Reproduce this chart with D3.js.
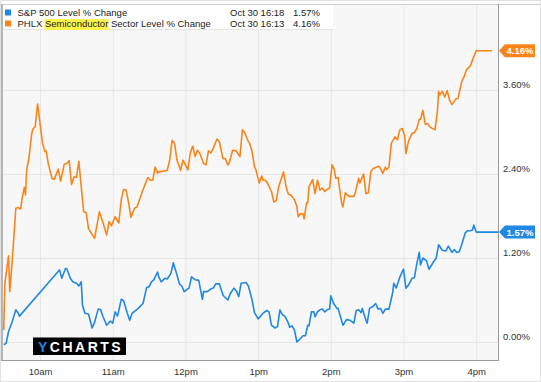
<!DOCTYPE html>
<html>
<head>
<meta charset="utf-8">
<script src="https://cdn.jsdelivr.net/npm/d3@7"></script>
<style>
  body { margin: 0; background: #fff; }
  svg { display: block; font-family: 'Liberation Sans', Arial, sans-serif; }
  .grid line { stroke: #e6e6e6; stroke-width: 1; }
  .grid path { display: none; }
  .axislabel path, .axislabel line { display: none; }
  .axislabel text { fill: #333; font-size: 9.5px; }
</style>
</head>
<body>
<div id="chart"></div>
<script>
// intraday % change, Oct 30
var spTimes = ['9:30','9:32','9:34','9:37','9:40','9:42','9:43','10:16','10:18','10:21','10:22','10:25','10:27','10:30','10:32','10:34','10:35','10:37','10:40','10:43','10:45','10:48','10:50','10:52','10:55','10:58','11:00','11:02','11:04','11:07','11:09','11:12','11:14','11:16','11:21','11:25','11:28','11:30','11:32','11:34','11:37','11:38','11:40','11:43','11:45','11:48','11:50','11:53','11:55','11:57','11:59','12:02','12:03','12:05','12:08','12:11','12:14','12:15','12:18','12:21','12:23','12:25','12:28','12:31','12:32','12:35','12:37','12:40','12:42','12:44','12:46','12:50','12:52','12:55','12:57','13:00','13:02','13:04','13:07','13:09','13:11','13:14','13:16','13:18','13:20','13:22','13:25','13:26','13:28','13:30','13:32','13:35','13:37','13:39','13:41','13:42','13:44','13:46','13:47','13:49','13:51','13:53','13:55','13:57','13:59','14:00','14:02','14:05','14:06','14:08','14:10','14:13','14:16','14:19','14:21','14:23','14:25','14:26','14:29','14:30','14:32','14:35','14:37','14:39','14:41','14:43','14:45','14:48','14:51','14:52','14:54','14:57','15:00','15:02','15:04','15:07','15:09','15:11','15:13','15:14','15:16','15:19','15:21','15:25','15:27','15:29','15:32','15:35','15:37','15:40','15:42','15:44','15:46','15:48','15:51','15:53','15:55','15:57','15:58','16:00','16:18'];
var spValues = [-0.04,-0.02,0.15,0.29,0.46,0.41,0.37,1.03,0.91,1.05,1.05,0.91,0.86,0.84,0.80,0.86,0.53,0.41,0.40,0.20,0.28,0.47,0.46,0.36,0.24,0.30,0.27,0.43,0.37,0.61,0.59,0.41,0.31,0.41,0.48,0.55,0.78,0.79,0.86,0.89,1.00,0.93,0.86,0.91,0.90,0.98,1.13,0.96,0.83,0.80,0.72,0.76,0.77,0.93,0.89,0.88,0.61,0.72,0.72,0.76,0.77,0.83,0.83,0.67,0.65,0.60,0.69,0.77,0.73,0.65,0.84,0.85,0.80,0.60,0.42,0.33,0.37,0.41,0.45,0.43,0.24,0.20,0.22,0.46,0.39,0.37,0.27,0.21,0.23,0.17,0.00,0.05,0.09,0.09,0.24,0.23,0.43,0.43,0.36,0.43,0.46,0.47,0.43,0.46,0.47,0.66,0.56,0.48,0.48,0.36,0.24,0.32,0.31,0.27,0.45,0.46,0.42,0.48,0.31,0.27,0.48,0.51,0.55,0.47,0.48,0.41,0.47,0.47,0.70,0.84,0.77,0.93,1.04,0.77,0.81,0.91,0.92,1.12,1.28,1.10,1.20,1.16,1.04,1.15,1.20,1.39,1.31,1.30,1.37,1.28,1.32,1.28,1.29,1.39,1.56,1.59,1.59,1.60,1.67,1.57,1.57];

var soxTimes = ['9:30','9:31','9:34','9:35','9:37','9:40','9:42','9:44','9:45','9:47','9:48','9:49','9:51','9:53','9:54','9:56','9:58','10:00','10:02','10:04','10:05','10:07','10:10','10:12','10:15','10:17','10:20','10:22','10:24','10:26','10:28','10:30','10:32','10:36','10:38','10:40','10:45','10:49','10:52','10:55','10:57','10:59','11:02','11:05','11:07','11:09','11:11','11:13','11:15','11:18','11:20','11:23','11:26','11:29','11:31','11:33','11:35','11:37','11:38','11:45','11:47','11:49','11:51','11:53','11:56','11:58','12:00','12:02','12:04','12:06','12:08','12:10','12:12','12:15','12:17','12:19','12:21','12:23','12:26','12:28','12:31','12:33','12:35','12:36','12:39','12:42','12:43','12:45','12:47','12:49','12:52','12:53','12:55','12:57','12:58','13:01','13:03','13:04','13:06','13:08','13:11','13:13','13:15','13:17','13:21','13:23','13:25','13:27','13:30','13:32','13:33','13:35','13:37','13:38','13:40','13:41','13:42','13:45','13:47','13:49','13:51','13:53','13:55','13:57','13:59','14:01','14:03','14:04','14:06','14:08','14:09','14:10','14:12','14:15','14:19','14:20','14:23','14:24','14:27','14:29','14:31','14:33','14:35','14:38','14:40','14:43','14:45','14:46','14:48','14:50','14:53','14:55','14:57','14:59','15:01','15:02','15:04','15:07','15:09','15:11','15:13','15:14','15:16','15:18','15:20','15:22','15:26','15:28','15:29','15:30','15:32','15:34','15:36','15:38','15:40','15:43','15:45','15:48','15:50','15:52','15:55','15:56','15:57','16:00','16:13'];
var soxValues = [0.17,0.84,1.23,0.72,1.15,1.91,1.92,1.90,2.03,2.21,2.10,2.46,2.65,2.96,3.04,3.08,3.40,3.12,2.84,2.72,2.73,2.53,2.33,2.33,2.47,2.30,2.54,2.55,2.59,2.25,2.36,2.35,2.58,1.86,1.85,1.62,1.48,1.86,1.70,1.53,1.72,1.66,1.79,1.70,2.03,2.18,2.17,2.00,1.78,1.91,1.93,2.08,2.22,2.35,2.31,2.31,2.50,2.41,2.43,2.45,2.60,2.88,2.84,2.60,2.45,2.60,2.53,2.46,2.70,2.80,2.65,2.74,2.69,2.55,2.53,2.73,2.70,2.77,2.90,2.86,2.62,2.62,2.53,2.55,2.74,2.73,2.70,2.65,3.03,2.99,2.86,2.84,2.72,2.50,2.47,2.27,2.37,2.31,2.31,2.26,2.15,2.00,2.02,2.22,2.43,2.22,2.11,2.10,2.03,1.94,1.79,1.83,1.83,1.76,1.99,1.99,2.22,2.32,2.12,2.31,2.17,2.20,2.15,2.18,2.20,2.53,2.46,2.34,2.35,2.10,1.98,1.93,2.13,2.08,2.08,2.12,2.34,2.27,2.40,2.12,2.13,2.43,2.48,2.50,2.51,2.41,2.50,2.46,2.50,2.84,2.93,2.89,3.03,3.05,2.94,2.69,2.86,2.98,2.99,3.05,3.18,3.18,3.31,3.11,3.12,3.07,3.03,3.30,3.58,3.53,3.58,3.50,3.59,3.46,3.39,3.47,3.48,3.72,3.79,3.89,3.94,3.98,4.03,4.16,4.16];

var seriesNames = ['S&P 500 Level % Change', 'PHLX Semiconductor Sector Level % Change'];
var seriesStamps = ['Oct 30 16:18', 'Oct 30 16:13'];
var seriesLast = [1.57, 4.16];
var seriesColors = ['#1f88e5', '#fb8418'];

var yTicks = [0, 1.2, 2.4, 3.6];
var xTicks = ['10:00', '11:00', '12:00', '13:00', '14:00', '15:00', '16:00'];
var xTickLabels = ['10am', '11am', '12pm', '1pm', '2pm', '3pm', '4pm'];

var W = 541, H = 382;
var plot = { left: 3, right: 498, top: 5, bottom: 360 };
var parseTime = d3.timeParse('%H:%M');

var svg = d3.select('#chart').append('svg')
        .attr('width', W)
        .attr('height', H);

var xscale = d3.scaleTime()
        .domain([parseTime('9:30'), parseTime('16:18')])
        .range([3.7, plot.right]);
var yscale = d3.scaleLinear()
        .domain([-0.257, 4.814])
        .range([plot.bottom, plot.top]);

// plot background
svg.append('rect')
        .attr('x', plot.left).attr('y', plot.top)
        .attr('width', plot.right - plot.left).attr('height', plot.bottom - plot.top)
        .attr('fill', '#f7f7f7');

// gridlines
svg.append('g')
        .attr('class', 'grid')
        .attr('transform', 'translate(0,' + plot.bottom + ')')
        .call(d3.axisBottom(xscale)
                .tickValues(xTicks.map(parseTime))
                .tickSize(-(plot.bottom - plot.top))
                .tickFormat(''));
svg.append('g')
        .attr('class', 'grid')
        .attr('transform', 'translate(' + plot.left + ',0)')
        .call(d3.axisLeft(yscale)
                .tickValues(yTicks)
                .tickSize(-(plot.right - plot.left))
                .tickFormat(''));

// frame lines
svg.append('line').attr('x1', 0).attr('x2', W).attr('y1', 4.5).attr('y2', 4.5)
        .attr('stroke', '#cfcfcf');
svg.append('line').attr('x1', 2).attr('x2', 2).attr('y1', 4).attr('y2', plot.bottom)
        .attr('stroke', '#b5b5b5').attr('stroke-width', 2);
svg.append('line').attr('x1', plot.right + 0.5).attr('x2', plot.right + 0.5).attr('y1', 4).attr('y2', plot.bottom + 1)
        .attr('stroke', '#9a9a9a');
svg.append('line').attr('x1', 1).attr('x2', plot.right + 1).attr('y1', plot.bottom + 0.5).attr('y2', plot.bottom + 0.5)
        .attr('stroke', '#9a9a9a');
svg.append('rect').attr('x', 0.5).attr('y', 0.5).attr('width', W - 1).attr('height', H - 1)
        .attr('fill', 'none').attr('stroke', '#e2e2e2');

// lines
svg.append('clipPath').attr('id', 'clip')
        .append('rect')
        .attr('x', plot.left).attr('y', plot.top)
        .attr('width', plot.right - plot.left).attr('height', plot.bottom - plot.top);

var line = d3.line()
        .x(function (d) { return xscale(parseTime(d[0])); })
        .y(function (d) { return yscale(d[1]); });

var spData = d3.zip(spTimes, spValues);
var soxData = d3.zip(soxTimes, soxValues);

[soxData, spData].forEach(function (data, i) {
        svg.append('path')
                .datum(data)
                .attr('clip-path', 'url(#clip)')
                .attr('fill', 'none')
                .attr('stroke', i == 0 ? seriesColors[1] : seriesColors[0])
                .attr('stroke-width', 1.6)
                .attr('stroke-linejoin', 'round')
                .attr('d', line);
});

// right axis labels, sitting just above the gridlines
var yaxis = svg.append('g')
        .attr('class', 'axislabel')
        .attr('transform', 'translate(' + (plot.right + 5) + ',-5.5)')
        .call(d3.axisRight(yscale)
                .tickValues(yTicks)
                .tickSize(0)
                .tickPadding(0)
                .tickFormat(function (d) { return d3.format('.2f')(d) + '%'; }));
yaxis.select('.domain').remove();

var xaxis = svg.append('g')
        .attr('class', 'axislabel')
        .attr('transform', 'translate(0,' + plot.bottom + ')')
        .call(d3.axisBottom(xscale)
                .tickValues(xTicks.map(parseTime))
                .tickSize(0)
                .tickPadding(8)
                .tickFormat(function (d, i) { return xTickLabels[i]; }));
xaxis.select('.domain').remove();

// last value tags
seriesLast.forEach(function (v, i) {
        var y = yscale(v);
        var x0 = plot.right + 1;
        svg.append('path')
                .attr('d', 'M' + x0 + ',' + y + 'L' + (x0 + 6) + ',' + (y - 6.5) + 'L' + 535 + ',' + (y - 6.5) +
                        'L' + 535 + ',' + (y + 6.5) + 'L' + (x0 + 6) + ',' + (y + 6.5) + 'Z')
                .attr('fill', seriesColors[i]);
        svg.append('text')
                .attr('x', 520).attr('y', y + 3.5)
                .attr('text-anchor', 'middle')
                .attr('fill', '#fff')
                .attr('font-size', '9.5px')
                .attr('font-weight', 'bold')
                .text(d3.format('.2f')(v) + '%');
});

// legend
var legend = svg.append('g');
legend.append('rect')
        .attr('x', 3).attr('y', 5)
        .attr('width', 330).attr('height', 24)
        .attr('fill', '#fff');
legend.append('line').attr('x1', 3).attr('x2', 333).attr('y1', 29.5).attr('y2', 29.5)
        .attr('stroke', '#e4e4e4');
legend.append('rect')
        .attr('x', 44.5).attr('y', 19)
        .attr('width', 64).attr('height', 11)
        .attr('fill', '#fbf34a');
seriesNames.forEach(function (name, i) {
        var by = 16 + i * 11;
        legend.append('rect')
                .attr('x', 5).attr('y', by - 6.5)
                .attr('width', 6).attr('height', 6)
                .attr('fill', seriesColors[i]);
        legend.append('text')
                .attr('x', 17.5).attr('y', by)
                .attr('font-size', '9.5px').attr('fill', '#222')
                .text(name);
        legend.append('text')
                .attr('x', 230).attr('y', by)
                .attr('font-size', '9.5px').attr('fill', '#222')
                .text(seriesStamps[i]);
        legend.append('text')
                .attr('x', 293).attr('y', by)
                .attr('font-size', '9.5px').attr('fill', '#222')
                .text(d3.format('.2f')(seriesLast[i]) + '%');
});

// ycharts logo
var logo = svg.append('g');
logo.append('rect')
        .attr('x', 33).attr('y', 337.5)
        .attr('width', 93).attr('height', 17.5)
        .attr('fill', '#000');
var logoText = logo.append('text')
        .attr('x', 38).attr('y', 352)
        .attr('font-size', '14px')
        .attr('font-weight', 'bold')
        .attr('letter-spacing', '2.5px')
        .attr('fill', '#fff');
logoText.append('tspan').attr('fill', '#1f88e5').text('Y');
logoText.append('tspan').text('CHARTS');
</script>
</body>
</html>
